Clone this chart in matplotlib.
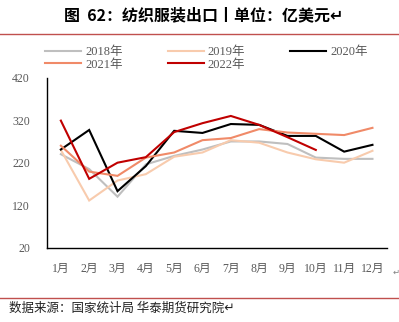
import matplotlib
matplotlib.use('Agg')
import matplotlib.pyplot as plt
from matplotlib.lines import Line2D

months = ['1月', '2月', '3月', '4月', '5月', '6月',
          '7月', '8月', '9月', '10月', '11月', '12月']
y2018 = [240, 205, 140, 216, 236, 251, 270, 270, 264, 232, 229, 229]
y2019 = [250, 131, 178, 193, 234, 244, 273, 267, 244, 228, 220, 248]
y2020 = [251, 297, 153, 212, 295, 290, 311, 309, 283, 283, 246, 262]
y2021 = [260, 199, 189, 232, 244, 273, 278, 299, 291, 288, 285, 302]
y2022 = [319, 182, 220, 233, 292, 313, 330, 309, 280, 250]
yticks = [20, 120, 220, 320, 420]

series = [
    ('2018年', y2018, '#BFBFBF'),
    ('2019年', y2019, '#F8CBAD'),
    ('2020年', y2020, '#000000'),
    ('2021年', y2021, '#F08A68'),
    ('2022年', y2022, '#C00000'),
]

serif_cjk = ['Liberation Serif', 'Noto Sans CJK SC', 'DejaVu Sans']
sans_cjk = ['Noto Sans CJK SC', 'DejaVu Sans']

fig = plt.figure(figsize=(3.99, 3.22), dpi=100)
ax = fig.add_axes([0.117, 0.2308, 0.852, 0.5279])

handles = {}
for name, vals, color in series:
    h, = ax.plot(range(len(vals)), vals, color=color, lw=1.5,
                 solid_joinstyle='miter', label=name)
    handles[name] = h

ax.set_xlim(-0.5, 11.5)
ax.set_ylim(20, 420)
ax.set_yticks(yticks)
ax.set_xticks(range(len(months)))
ax.set_xticklabels(months, family=serif_cjk, fontsize=8.5, color='#595959')
ax.set_yticklabels([str(t) for t in yticks], family=serif_cjk,
                   fontsize=8.5, color='#595959')
ax.tick_params(length=0)
ax.tick_params(axis='y', pad=12)
ax.tick_params(axis='x', pad=11)
for s in ['top', 'right']:
    ax.spines[s].set_visible(False)
for s in ['left', 'bottom']:
    ax.spines[s].set_color('black')
    ax.spines[s].set_linewidth(1.0)

# legend, row-major order
order = ['2018年', '2021年', '2019年', '2022年', '2020年']
fig.legend([handles[k] for k in order], order, ncol=3,
           loc='upper left', bbox_to_anchor=(0.085, 0.892),
           frameon=False, handlelength=2.9, handletextpad=0.3,
           columnspacing=3.6, labelspacing=0.05,
           prop={'family': serif_cjk, 'size': 9}, labelcolor='#595959')

# title and rules
fig.text(0.51, 0.953, '图  62：纺织服装出口丨单位：亿美元↵', ha='center', va='center',
         family=sans_cjk, fontsize=11.5, fontweight='bold')
fig.add_artist(Line2D([0, 1], [1 - 34 / 322, 1 - 34 / 322],
                      color='#C0504D', lw=1.0))
fig.add_artist(Line2D([0, 1], [1 - 298 / 322, 1 - 298 / 322],
                      color='#C0504D', lw=1.0))
fig.text(0.992, 1 - 272 / 322, '↵', ha='center', va='center',
         family=['DejaVu Sans'], fontsize=6, color='#808080')
fig.text(0.022, 1 - 308 / 322, '数据来源：国家统计局 华泰期货研究院↵', ha='left',
         va='center', family=sans_cjk, fontsize=9, color='#222222')

fig.savefig('out.png', dpi=100)
